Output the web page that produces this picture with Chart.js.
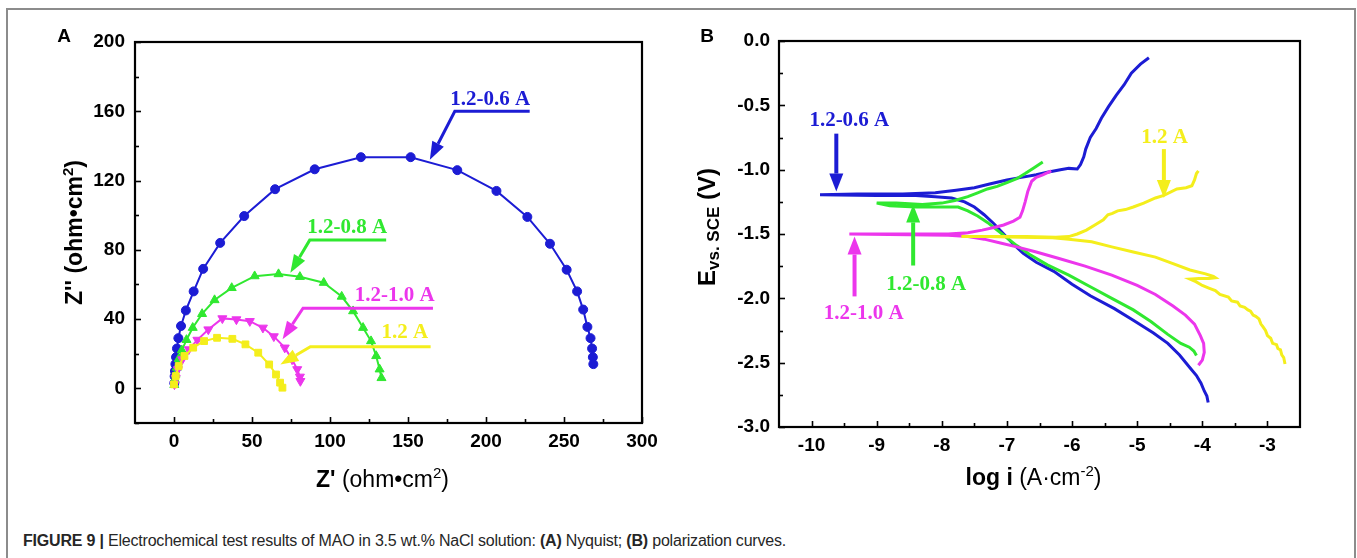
<!DOCTYPE html>
<html>
<head>
<meta charset="utf-8">
<script src="https://cdn.jsdelivr.net/npm/chart.js@4.4.1/dist/chart.umd.min.js"></script>
<style>
html,body{margin:0;padding:0;background:#fff;width:1357px;height:558px;overflow:hidden;}
#frame{position:absolute;left:6px;top:8px;width:1350px;height:600px;box-sizing:border-box;border:2px solid #8c8c8c;}
#wrapA{position:absolute;left:0;top:0;width:680px;height:510px;}
#wrapB{position:absolute;left:680px;top:0;width:677px;height:510px;}
#caption{position:absolute;left:23px;top:533px;font:16px/16px 'Liberation Sans',Arial,sans-serif;letter-spacing:-0.2px;color:#262626;white-space:nowrap;}
#caption b{font-weight:bold;}
</style>
</head>
<body>
<div id="frame"></div>
<div id="wrapA"><canvas id="chartA" width="680" height="510"></canvas></div>
<div id="wrapB"><canvas id="chartB" width="677" height="510"></canvas></div>
<div id="caption"><b>FIGURE 9 |</b> Electrochemical test results of MAO in 3.5 wt.% NaCl solution: <b>(A)</b> Nyquist; <b>(B)</b> polarization curves.</div>
<script>
// ---------------- Panel A : Nyquist data (Z', Z'') ----------------
const seriesNames = ['1.2-0.6 A', '1.2-0.8 A', '1.2-1.0 A', '1.2 A'];
const seriesColors = ['#1c1cd4', '#30e830', '#ec36ec', '#f4ee1c'];

const nyq06X = [0.2,0.4,0.6,0.9,1.3,1.9,2.8,4.5,7.6,12.6,18.7,29.6,45,64.8,90.2,119.8,151.7,181.6,206.7,226.5,241,251.7,258.4,262.3,265,267,268,268.5,268.8];
const nyq06Y = [3,7,10,14,18,23,29,36,45,56,69,84,99.5,115,126.5,133.5,133.5,126,114,99,83.5,68.5,56,45.5,35.5,29,23,18,14];

const nyq08X = [0.2,0.5,1,1.8,3,5,8,12,18,26,37,51.7,67,80.7,96,107.5,114.8,121.2,126.3,129.6,131.8,133];
const nyq08Y = [2,5,8,12,17,22,28,35,43,51,58,64.8,66,64.4,61,53,44.6,35,27.3,18.7,11,6];

const nyq10X = [0.3,1.1,2.5,5.3,9.5,15,22,31,40,48.6,57,64,71,75.7,79,80.7,81];
const nyq10Y = [2.3,6,11,16.7,22.5,28,34,40.4,39.8,38.8,35,30,23.5,16.7,11,6.7,4.2];

const nyq12X = [0,1.1,3,6.7,12.3,19.3,27.6,37.4,45.8,54,61,65.4,68,69.5];
const nyq12Y = [2.3,7.1,12.9,18.7,23.5,27.3,29.2,28.6,25.4,20.6,13.8,8,3.3,0.4];

const axAXTicks = [0,50,100,150,200,250,300];
const axAXMinor = [25,75,125,175,225,275];
const axAYTicks = [0,40,80,120,160,200];
const axAYMinor = [-20,20,60,100,140,180];

// callouts panel A: text, text position, path (last point = arrow tip)
const calloutAText = ['1.2-0.6 A', '1.2-0.8 A', '1.2-1.0 A', '1.2 A'];
const calloutATextPos = [[202.7,167],[111,92.7],[141.5,53.8],[148,32]];
const calloutAPaths = [
  [[228,160],[180,160],[164,132]],
  [[136,85.6],[87,85.6],[74.6,66.7]],
  [[166,46.3],[82.7,46.3],[69.6,28.3]],
  [[164.5,24],[87.4,24],[68.2,13.8]]
];

// ---------------- Panel B : polarization data (log i, E) ----------------
const pol06LogI = [-3.91,-3.93,-3.97,-4.02,-4.09,-4.19,-4.35,-4.53,-4.75,-5.06,-5.35,-5.72,-6.0,-6.28,-6.55,-6.75,-6.9,-7.05,-7.2,-7.35,-7.5,-7.65,-7.85,-8.1,-8.4,-9.0,-9.87,-9.3,-8.6,-8.1,-7.78,-7.5,-7.25,-7.0,-6.78,-6.55,-6.38,-6.18,-6.05,-5.92,-5.87,-5.82,-5.79,-5.72,-5.63,-5.55,-5.44,-5.32,-5.2,-5.09,-4.95,-4.82];
const pol06E = [-2.81,-2.76,-2.72,-2.66,-2.60,-2.54,-2.44,-2.35,-2.27,-2.17,-2.08,-1.98,-1.89,-1.79,-1.72,-1.65,-1.58,-1.50,-1.42,-1.35,-1.29,-1.25,-1.22,-1.21,-1.20,-1.20,-1.195,-1.19,-1.19,-1.18,-1.16,-1.14,-1.11,-1.08,-1.06,-1.04,-1.02,-1.00,-0.99,-0.995,-0.96,-0.90,-0.84,-0.75,-0.68,-0.60,-0.51,-0.42,-0.34,-0.25,-0.18,-0.13];

const pol08LogI = [-4.09,-4.13,-4.2,-4.33,-4.53,-4.79,-5.06,-5.39,-5.72,-6.05,-6.38,-6.65,-6.85,-7.0,-7.15,-7.3,-7.45,-7.6,-7.75,-8.0,-8.4,-8.8,-9.0,-8.7,-8.3,-8.0,-7.8,-7.6,-7.45,-7.3,-7.15,-7.0,-6.85,-6.72,-6.6,-6.45];
const pol08E = [-2.445,-2.41,-2.38,-2.35,-2.28,-2.18,-2.09,-2.0,-1.91,-1.82,-1.74,-1.66,-1.59,-1.53,-1.47,-1.41,-1.36,-1.32,-1.29,-1.29,-1.29,-1.28,-1.26,-1.26,-1.27,-1.26,-1.24,-1.21,-1.18,-1.15,-1.13,-1.10,-1.07,-1.03,-0.99,-0.94];

const pol10LogI = [-4.06,-4.0,-3.97,-3.98,-4.03,-4.12,-4.26,-4.45,-4.72,-5.0,-5.39,-5.8,-6.2,-6.55,-6.85,-7.1,-7.35,-7.6,-7.9,-8.5,-9.42,-8.6,-7.9,-7.6,-7.38,-7.2,-7.05,-6.9,-6.8,-6.76,-6.72,-6.68,-6.62,-6.55,-6.45,-6.32];
const pol10E = [-2.52,-2.48,-2.42,-2.35,-2.29,-2.2,-2.13,-2.06,-1.97,-1.9,-1.82,-1.75,-1.69,-1.64,-1.60,-1.57,-1.54,-1.52,-1.51,-1.505,-1.50,-1.50,-1.50,-1.49,-1.47,-1.45,-1.43,-1.40,-1.37,-1.32,-1.25,-1.17,-1.09,-1.06,-1.04,-1.01];

const pol12LogI = [-2.73,-2.75,-2.78,-2.8,-2.84,-2.86,-2.92,-2.95,-3.0,-3.03,-3.07,-3.1,-3.13,-3.18,-3.22,-3.26,-3.3,-3.35,-3.42,-3.46,-3.55,-3.6,-3.73,-3.8,-3.9,-4.0,-4.1,-4.19,-4.05,-3.9,-3.8,-3.83,-3.95,-4.19,-4.45,-4.72,-5.06,-5.39,-5.7,-6.05,-6.3,-6.8,-7.3,-7.7,-7.2,-6.7,-6.25,-6.05,-5.92,-5.78,-5.65,-5.52,-5.45,-5.38,-5.3,-5.18,-5.06,-4.9,-4.72,-4.59,-4.39,-4.25,-4.16,-4.12,-4.09,-4.06];
const pol12E = [-2.51,-2.46,-2.44,-2.40,-2.39,-2.36,-2.35,-2.31,-2.29,-2.25,-2.22,-2.2,-2.16,-2.14,-2.13,-2.10,-2.09,-2.07,-2.06,-2.03,-2.02,-1.99,-1.97,-1.94,-1.92,-1.9,-1.87,-1.85,-1.845,-1.845,-1.84,-1.83,-1.81,-1.78,-1.73,-1.68,-1.64,-1.60,-1.56,-1.54,-1.53,-1.525,-1.52,-1.52,-1.52,-1.52,-1.525,-1.52,-1.50,-1.47,-1.43,-1.39,-1.35,-1.34,-1.32,-1.31,-1.29,-1.26,-1.22,-1.2,-1.15,-1.14,-1.125,-1.08,-1.03,-1.01];

const axBXTicks = [-10,-9,-8,-7,-6,-5,-4,-3];
const axBXMinor = [-9.5,-8.5,-7.5,-6.5,-5.5,-4.5,-3.5];
const axBYTicks = [0,-0.5,-1.0,-1.5,-2.0,-2.5,-3.0];
const axBYLabels = ['0.0','-0.5','-1.0','-1.5','-2.0','-2.5','-3.0'];
const axBYMinor = [-0.25,-0.75,-1.25,-1.75,-2.25,-2.75];

const calloutBText = ['1.2-0.6 A', '1.2-0.8 A', '1.2-1.0 A', '1.2 A'];
const calloutBTextPos = [[-9.42,-0.615],[-8.24,-1.89],[-9.2,-2.12],[-4.58,-0.75]];
const calloutBPaths = [
  [[-9.62,-0.72],[-9.62,-1.17]],
  [[-8.44,-1.745],[-8.44,-1.27]],
  [[-9.34,-1.985],[-9.34,-1.52]],
  [[-4.59,-0.84],[-4.59,-1.22]]
];

// ---------------- helpers ----------------
const SANS = "'Liberation Sans', Arial, sans-serif";
const SERIF = "'Liberation Serif', 'Times New Roman', serif";
Chart.defaults.font.family = SANS;
const pts = (xs, ys) => xs.map((x, i) => ({x: x, y: ys[i]}));

const frameTicks = {
  id: 'frameTicks',
  afterDatasetsDraw(chart, args, o) {
    const {ctx, chartArea: a, scales} = chart;
    const xs = scales.x, ys = scales.y;
    ctx.save();
    ctx.strokeStyle = '#000';
    ctx.lineWidth = 1.6;
    const t = (vals, len, isX) => vals.forEach(v => {
      ctx.beginPath();
      if (isX) { const p = Math.round(xs.getPixelForValue(v)) + 0.5; ctx.moveTo(p, a.bottom); ctx.lineTo(p, a.bottom - len); }
      else { const p = Math.round(ys.getPixelForValue(v)) + 0.5; ctx.moveTo(a.left, p); ctx.lineTo(a.left + len, p); }
      ctx.stroke();
    });
    t(o.xMajor, 6, true); t(o.xMinor, 4, true);
    t(o.yMajor, 6, false); t(o.yMinor, 4, false);
    ctx.lineWidth = 2.2;
    ctx.strokeRect(a.left, a.top, a.right - a.left, a.bottom - a.top);
    ctx.restore();
  }
};

const callouts = {
  id: 'callouts',
  afterDatasetsDraw(chart, args, o) {
    const {ctx, scales} = chart;
    const xs = scales.x, ys = scales.y;
    o.paths.forEach((path, k) => {
      const p = path.map(q => [xs.getPixelForValue(q[0]), ys.getPixelForValue(q[1])]);
      const color = seriesColors[k];
      ctx.save();
      ctx.strokeStyle = color; ctx.fillStyle = color; ctx.lineWidth = o.lineWidth; ctx.lineJoin = 'miter';
      const n = p.length;
      const [tx, ty] = p[n - 1], [px, py] = p[n - 2];
      const ang = Math.atan2(ty - py, tx - px);
      const bx = tx - o.headLen * Math.cos(ang), by = ty - o.headLen * Math.sin(ang);
      ctx.beginPath();
      ctx.moveTo(p[0][0], p[0][1]);
      for (let i = 1; i < n - 1; i++) ctx.lineTo(p[i][0], p[i][1]);
      ctx.lineTo(bx, by);
      ctx.stroke();
      ctx.beginPath();
      ctx.moveTo(tx, ty);
      ctx.lineTo(bx + o.headW * Math.sin(ang), by - o.headW * Math.cos(ang));
      ctx.lineTo(bx - o.headW * Math.sin(ang), by + o.headW * Math.cos(ang));
      ctx.closePath(); ctx.fill();
      ctx.font = 'bold ' + o.fontSize + 'px ' + SERIF;
      ctx.textAlign = 'center'; ctx.textBaseline = 'middle';
      ctx.fillText(o.texts[k], xs.getPixelForValue(o.textPos[k][0]), ys.getPixelForValue(o.textPos[k][1]));
      ctx.restore();
    });
  }
};

function drawRich(ctx, segs, cx, cy, rotate) {
  ctx.save();
  ctx.translate(cx, cy);
  if (rotate) ctx.rotate(-Math.PI / 2);
  let total = 0;
  segs.forEach(s => { ctx.font = s.f; s.w = ctx.measureText(s.t).width; total += s.w; });
  let x = -total / 2;
  ctx.textBaseline = 'alphabetic'; ctx.textAlign = 'left'; ctx.fillStyle = '#000';
  segs.forEach(s => { ctx.font = s.f; ctx.fillText(s.t, x, s.dy || 0); x += s.w; });
  ctx.restore();
}

const titles = {
  id: 'titles',
  afterDraw(chart, args, o) {
    const {ctx, chartArea: a} = chart;
    const cx = (a.left + a.right) / 2, cy = (a.top + a.bottom) / 2;
    drawRich(ctx, o.xSegs, cx + o.xDx, a.bottom + o.xDy, false);
    drawRich(ctx, o.ySegs, o.yX, cy + o.yDy, true);
    ctx.save();
    ctx.font = 'bold 19px ' + SANS; ctx.fillStyle = '#000';
    ctx.textAlign = 'center'; ctx.textBaseline = 'middle';
    ctx.fillText(o.panel, o.panelX, o.panelY);
    ctx.restore();
  }
};

const B23 = 'bold 23px ' + SANS, R23 = '23px ' + SANS, B15 = 'bold 15px ' + SANS, R15 = '15px ' + SANS;
const B24 = 'bold 24px ' + SANS;

function axisCommon(extra) {
  return Object.assign({
    type: 'linear',
    grid: {display: false, drawTicks: false},
    border: {display: false},
  }, extra);
}

// ---------------- Chart A ----------------
const markerStyles = ['circle', 'triangle', 'triangle', 'rect'];
const markerRot = [0, 0, 180, 0];
const markerRad = [4.5, 5.2, 5.2, 4.8];
const nyqSets = [[nyq06X, nyq06Y], [nyq08X, nyq08Y], [nyq10X, nyq10Y], [nyq12X, nyq12Y]];

new Chart(document.getElementById('chartA'), {
  type: 'scatter',
  data: {
    datasets: nyqSets.map((s, k) => ({
      label: seriesNames[k],
      data: pts(s[0], s[1]),
      showLine: true,
      borderColor: seriesColors[k],
      backgroundColor: seriesColors[k],
      borderWidth: 2,
      pointStyle: markerStyles[k],
      pointRotation: markerRot[k],
      pointRadius: markerRad[k],
      pointBorderWidth: 1,
      tension: 0
    })).reverse()
  },
  options: {
    responsive: false, animation: false, events: [],
    layout: {padding: {left: 0, top: 42, right: 38, bottom: 0}},
    plugins: {
      legend: {display: false}, tooltip: {enabled: false},
      frameTicks: {xMajor: axAXTicks, xMinor: axAXMinor, yMajor: axAYTicks, yMinor: axAYMinor},
      callouts: {paths: calloutAPaths, texts: calloutAText, textPos: calloutATextPos, lineWidth: 3, headLen: 18, headW: 6.5, fontSize: 21},
      titles: {
        xSegs: [{t: "Z'", f: B23}, {t: ' (ohm\u2022cm', f: R23}, {t: '2', f: R15, dy: -9}, {t: ')', f: R23}],
        xDx: -6, xDy: 64,
        ySegs: [{t: "Z'' (ohm\u2022cm", f: B23}, {t: '2', f: B15, dy: -9}, {t: ')', f: B23}],
        yX: 82, yDy: 0,
        panel: 'A', panelX: 64, panelY: 37
      }
    },
    scales: {
      x: axisCommon({
        min: -25, max: 300, position: 'bottom',
        afterBuildTicks: ax => { ax.ticks = axAXTicks.map(v => ({value: v})); },
        afterFit: ax => { ax.height = 87; },
        ticks: {autoSkip: false, maxRotation: 0, padding: 7, color: '#000', font: {size: 19, weight: 'bold'}}
      }),
      y: axisCommon({
        min: -20, max: 200, position: 'left',
        afterBuildTicks: ax => { ax.ticks = axAYTicks.map(v => ({value: v})); },
        afterFit: ax => { ax.width = 135; },
        ticks: {autoSkip: false, padding: 10, color: '#000', font: {size: 19, weight: 'bold'}}
      })
    }
  },
  plugins: [frameTicks, callouts, titles]
});

// ---------------- Chart B ----------------
const polSets = [[pol06LogI, pol06E], [pol08LogI, pol08E], [pol10LogI, pol10E], [pol12LogI, pol12E]];
new Chart(document.getElementById('chartB'), {
  type: 'scatter',
  data: {
    datasets: polSets.map((s, k) => ({
      label: seriesNames[k],
      data: pts(s[0], s[1]),
      showLine: true,
      borderColor: seriesColors[k],
      backgroundColor: seriesColors[k],
      borderWidth: 3,
      pointRadius: 0,
      tension: 0
    })).reverse()
  },
  options: {
    responsive: false, animation: false, events: [],
    layout: {padding: {left: 0, top: 41, right: 57, bottom: 0}},
    plugins: {
      legend: {display: false}, tooltip: {enabled: false},
      frameTicks: {xMajor: axBXTicks, xMinor: axBXMinor, yMajor: axBYTicks, yMinor: axBYMinor},
      callouts: {paths: calloutBPaths, texts: calloutBText, textPos: calloutBTextPos, lineWidth: 4, headLen: 18, headW: 7, fontSize: 21},
      titles: {
        xSegs: [{t: 'log i', f: B23}, {t: ' (A\u00b7cm', f: R23}, {t: '-2', f: R15, dy: -9}, {t: ')', f: R23}],
        xDx: -6, xDy: 58,
        ySegs: [{t: 'E', f: B24}, {t: 'vs. SCE', f: 'bold 17px ' + SANS, dy: 4}, {t: ' (V)', f: B24}],
        yX: 35, yDy: -7,
        panel: 'B', panelX: 27, panelY: 37
      }
    },
    scales: {
      x: axisCommon({
        min: -10.5, max: -2.5, position: 'bottom',
        afterBuildTicks: ax => { ax.ticks = axBXTicks.map(v => ({value: v})); },
        afterFit: ax => { ax.height = 83; },
        ticks: {autoSkip: false, maxRotation: 0, padding: 7, color: '#000', font: {size: 19, weight: 'bold'}}
      }),
      y: axisCommon({
        min: -3, max: 0, position: 'left',
        afterBuildTicks: ax => { ax.ticks = axBYTicks.map(v => ({value: v})); },
        afterFit: ax => { ax.width = 99; },
        ticks: {autoSkip: false, padding: 9, color: '#000', font: {size: 19, weight: 'bold'},
                callback: v => axBYLabels[axBYTicks.indexOf(v)]}
      })
    }
  },
  plugins: [frameTicks, callouts, titles]
});
</script>
</body>
</html>
